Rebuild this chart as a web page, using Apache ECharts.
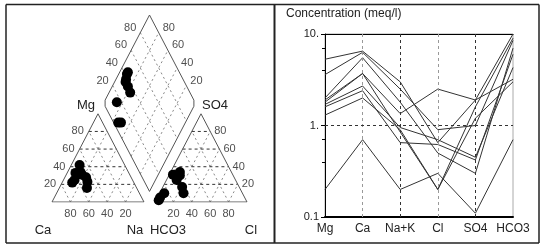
<!DOCTYPE html>
<html>
<head>
<meta charset="utf-8">
<script src="https://cdn.jsdelivr.net/npm/echarts@6/dist/echarts.min.js"></script>
<style>
  html, body { margin: 0; padding: 0; background: #fff; }
  #chart { width: 542px; height: 247px; }
</style>
</head>
<body>
<div id="chart"></div>
<script>
// ---- Schoeller diagram (meq/l), one entry per sample ----
const ions = ["Mg", "Ca", "Na+K", "Cl", "SO4", "HCO3"];
const mg   = [5.3, 3.6, 2.0, 1.9, 1.8, 1.7, 1.6, 1.3, 0.2];
const ca   = [6.5, 6.3, 5.5, 3.7, 3.7, 2.7, 2.4, 2.0, 0.7];
const naK  = [3.0, 2.5, 1.8, 1.35, 0.85, 0.95, 0.65, 0.9, 0.2];
const cl   = [0.65, 0.9, 0.5, 2.5, 0.2, 0.7, 0.62, 0.2, 0.3];
const so4  = [1.9, 1.0, 0.3, 1.9, 1.6, 0.45, 0.42, 1.2, 0.11];
const hco3 = [10, 8.5, 7.0, 3.2, 9.0, 4.3, 6.0, 3.0, 0.7];

// ---- Piper diagram (% of meq), one entry per sample ----
const pCa   = [49, 67, 63, 52, 52, 54, 49, 50, 58];
const pMg   = [42, 22, 25, 31, 34, 16, 28, 23, 33];
const pNa   = [9, 11, 12, 17, 14, 30, 23, 27, 9];
const pHCO3 = [56, 62, 64, 64, 85, 92, 65, 95, 58];
const pCl   = [10, 21, 11, 26, 5, 3, 4, 3, 12];
const pSO4  = [34, 17, 25, 10, 10, 5, 31, 2, 30];
const piperTicks = [20, 40, 60, 80];

let chart = echarts.init(document.getElementById("chart"));

// piper geometry (triangle side L, gap between triangles)
const L = 100, GAP = 12, H = L * Math.sqrt(3) / 2;
const cationXY = (m, n) => [L * n / 100 + L * m / 200, H * m / 100];
const anionXY = (s, c) => [L + GAP + L * c / 100 + L * s / 200, H * s / 100];
const bottom = [L + GAP / 2, GAP * Math.sqrt(3) / 2];
const diamondXY = (n, cs) => {
  let a = 1 - n / 100, b = cs / 100;
  return [bottom[0] - L / 2 * a + L / 2 * b, bottom[1] + H * (a + b)];
};
const topY = bottom[1] + 2 * H;

// diamond drawn with slightly clipped side corners, like the original
let cut = 3;
let left = diamondXY(0, 0), right = diamondXY(100, 100);
let outlines = [
  { coords: [cationXY(0, 0), cationXY(0, 100), cationXY(100, 0), cationXY(0, 0)] },
  { coords: [anionXY(0, 0), anionXY(0, 100), anionXY(100, 0), anionXY(0, 0)] },
  { coords: [diamondXY(100, 0),
      [left[0] + cut / Math.sqrt(3), left[1] - cut], [left[0] + cut / Math.sqrt(3), left[1] + cut],
      diamondXY(0, 100),
      [right[0] - cut / Math.sqrt(3), right[1] + cut], [right[0] - cut / Math.sqrt(3), right[1] - cut],
      diamondXY(100, 0)] }
];

let darkGrid = [], lightGrid = [];
piperTicks.forEach(function (f) {
  darkGrid.push({ coords: [cationXY(f, 0), cationXY(f, 100 - f)] });
  lightGrid.push({ coords: [cationXY(0, f), cationXY(100 - f, f)] });
  lightGrid.push({ coords: [cationXY(0, 100 - f), cationXY(100 - f, 0)] });
  darkGrid.push({ coords: [anionXY(f, 0), anionXY(f, 100 - f)] });
  lightGrid.push({ coords: [anionXY(0, f), anionXY(100 - f, f)] });
  lightGrid.push({ coords: [anionXY(0, 100 - f), anionXY(100 - f, 0)] });
  lightGrid.push({ coords: [diamondXY(f, 0), diamondXY(f, 100)] });
  lightGrid.push({ coords: [diamondXY(0, f), diamondXY(100, f)] });
});

let tickLabels = [];
piperTicks.forEach(function (f) {
  tickLabels.push({ value: cationXY(f, 0), label: { formatter: String(f), position: "left", distance: 5 } });
  tickLabels.push({ value: cationXY(0, 100 - f), label: { formatter: String(f), position: "bottom", distance: 6 } });
  tickLabels.push({ value: anionXY(0, f), label: { formatter: String(f), position: "bottom", distance: 6 } });
  tickLabels.push({ value: anionXY(f, 100 - f), label: { formatter: String(f), position: "right", distance: 4 } });
  tickLabels.push({ value: diamondXY(0, f), label: { formatter: String(f), position: "left", distance: 4, offset: [0, -5] } });
  tickLabels.push({ value: diamondXY(100 - f, 100), label: { formatter: String(f), position: "right", distance: 4, offset: [0, -5] } });
});

let cationPts = [], anionPts = [], diamondPts = [];
pCa.forEach(function (c, i) {
  cationPts.push(cationXY(pMg[i], pNa[i]));
  anionPts.push(anionXY(pSO4[i], pCl[i]));
  diamondPts.push(diamondXY(pNa[i], pCl[i] + pSO4[i]));
});

const font = "Liberation Sans, Arial, sans-serif";
let txt = (x, y, s, align, size) => ({
  type: "text", x: x, y: y,
  style: { text: s, fill: "#222", font: (size || 12) + "px " + font, textAlign: align || "center", textVerticalAlign: "middle" }
});
let rule = (x1, y1, x2, y2, w) => ({
  type: "line", shape: { x1: x1, y1: y1, x2: x2, y2: y2 },
  style: { stroke: "#222", lineWidth: w || 1.5 }
});

let schoellerSeries = mg.map(function (v, i) {
  return {
    type: "line",
    xAxisIndex: 1,
    yAxisIndex: 1,
    symbol: "none",
    silent: true,
    animation: false,
    lineStyle: { color: "#333", width: 1 },
    data: [mg[i], ca[i], naK[i], cl[i], so4[i], hco3[i]]
  };
});
schoellerSeries[0].markLine = {
  symbol: "none",
  silent: true,
  label: { show: false },
  data: [
    { xAxis: "Ca", lineStyle: { color: "#999", type: [3, 3], width: 1 } },
    { xAxis: "Na+K", lineStyle: { color: "#333", type: [3, 3], width: 1 } },
    { xAxis: "Cl", lineStyle: { color: "#999", type: [3, 3], width: 1 } },
    { xAxis: "SO4", lineStyle: { color: "#333", type: [3, 3], width: 1 } },
    { yAxis: 1, lineStyle: { color: "#333", type: [3, 3], width: 1 } }
  ]
};

let option = {
  animation: false,
  textStyle: { fontFamily: font },
  grid: [
    { left: 52, right: 295, top: 15, bottom: 45, outerBoundsMode: "none", containLabel: false },
    { left: 325, right: 29, top: 34, bottom: 30, outerBoundsMode: "none", containLabel: false,
      show: true, borderColor: "#aaa", borderWidth: 1 }
  ],
  xAxis: [
    { gridIndex: 0, type: "value", min: 0, max: 2 * L + GAP, show: false },
    {
      gridIndex: 1, type: "category", data: ions, boundaryGap: false,
      axisLine: { lineStyle: { color: "#000", width: 2 } },
      axisTick: { show: false },
      axisLabel: { color: "#222", fontSize: 12, margin: 6, interval: 0 },
      splitLine: { show: false }
    },
    {
      gridIndex: 1, type: "category", data: ions, boundaryGap: false, position: "top",
      axisLine: { lineStyle: { color: "#000", width: 1 } },
      axisTick: { show: false }, axisLabel: { show: false }, splitLine: { show: false }
    }
  ],
  yAxis: [
    { gridIndex: 0, type: "value", min: 0, max: topY, show: false },
    {
      gridIndex: 1, type: "log", logBase: 10, min: 0.1, max: 10,
      axisLine: { show: true, lineStyle: { color: "#000", width: 1 } },
      axisTick: { show: true, length: 4, lineStyle: { color: "#000" } },
      minorTick: { show: true, splitNumber: 3, length: 3, lineStyle: { color: "#000" } },
      axisLabel: {
        color: "#222", fontSize: 11, margin: 6,
        formatter: v => v >= 10 ? "10." : v >= 1 ? "1." : "0.1"
      },
      splitLine: { show: false }
    }
  ],
  graphic: [
    rule(6, 4.5, 539, 4.5),
    rule(6, 243, 539, 243),
    rule(6, 4.5, 6, 243),
    rule(539, 4.5, 539, 243),
    rule(274.5, 4.5, 274.5, 243, 2),
    txt(286, 14, "Concentration (meq/l)", "left", 12),
    txt(43, 230, "Ca", "center", 13),
    txt(135, 230, "Na", "center", 13),
    txt(168, 230, "HCO3", "center", 13),
    txt(251, 230, "Cl", "center", 13),
    txt(95, 105, "Mg", "right", 13),
    txt(202, 105, "SO4", "left", 13)
  ],
  series: [
    {
      type: "lines", coordinateSystem: "cartesian2d", xAxisIndex: 0, yAxisIndex: 0,
      polyline: true, silent: true,
      lineStyle: { color: "#888", width: 1, type: [2, 3], opacity: 1 },
      data: lightGrid
    },
    {
      type: "lines", coordinateSystem: "cartesian2d", xAxisIndex: 0, yAxisIndex: 0,
      polyline: true, silent: true,
      lineStyle: { color: "#333", width: 1, type: [3, 3], opacity: 1 },
      data: darkGrid
    },
    {
      type: "lines", coordinateSystem: "cartesian2d", xAxisIndex: 0, yAxisIndex: 0,
      polyline: true, silent: true,
      lineStyle: { color: "#555", width: 1, opacity: 1 },
      data: outlines
    },
    {
      type: "scatter", xAxisIndex: 0, yAxisIndex: 0, symbolSize: 0, silent: true, clip: false,
      label: { show: true, color: "#222", fontSize: 11 },
      data: tickLabels
    },
    {
      type: "scatter", xAxisIndex: 0, yAxisIndex: 0, symbolSize: 10, silent: true,
      itemStyle: { color: "#000", opacity: 1 },
      data: cationPts.concat(anionPts, diamondPts)
    }
  ].concat(schoellerSeries)
};

chart.setOption(option, true);
</script>
</body>
</html>
